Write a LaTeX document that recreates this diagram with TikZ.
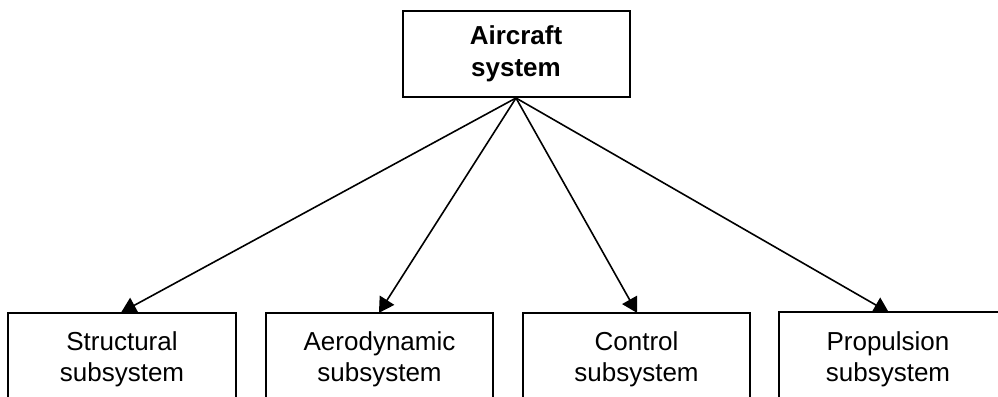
\documentclass[tikz,border=0pt]{standalone}
\usepackage{fontspec}
\setmainfont{Liberation Sans}
\usetikzlibrary{arrows.meta}
\begin{document}
\begin{tikzpicture}[x=1pt,y=-1pt,
  boxline/.style={draw=black, line width=2pt},
  blockbox/.style={boxline, fill=white, align=center,
    minimum width=227pt, font=\fontsize{26}{31}\selectfont, inner sep=0pt},
  link/.style={line width=1.6pt, -{Triangle[length=15pt,width=17pt]}, shorten >=-1pt}
]
  \useasboundingbox (0,0) rectangle (998,396);
  % top-level system
  \node[blockbox, minimum height=86pt, font=\fontsize{26}{32}\selectfont\bfseries]
    (air) at (516,54) {Aircraft\\system};
  % subsystems (they run past the lower edge of the page)
  \node[blockbox, minimum height=92pt, minimum width=228pt] (st) at (122,359) {Structural\\subsystem};
  \node[blockbox, minimum height=92pt] (ae) at (379.5,359) {Aerodynamic\\subsystem};
  \node[blockbox, minimum height=92pt] (co) at (636.5,359) {Control\\subsystem};
  % the last box runs off the right edge, so its right side is left open
  \node[blockbox, draw=none, minimum height=92pt, minimum width=260pt] (pr) at (910,359) {};
  \draw[boxline] (pr.north east) -- (pr.north west) -- (pr.south west) -- (pr.south east);
  \node[font=\fontsize{26}{31}\selectfont, align=center, inner sep=0pt] (prt) at (888,359) {Propulsion\\subsystem};
  % connectors
  \foreach \t in {st,ae,co}
    \draw[link] (air.south) -- (\t.north);
  \draw[link] (air.south) -- (prt |- pr.north);
\end{tikzpicture}
\end{document}
